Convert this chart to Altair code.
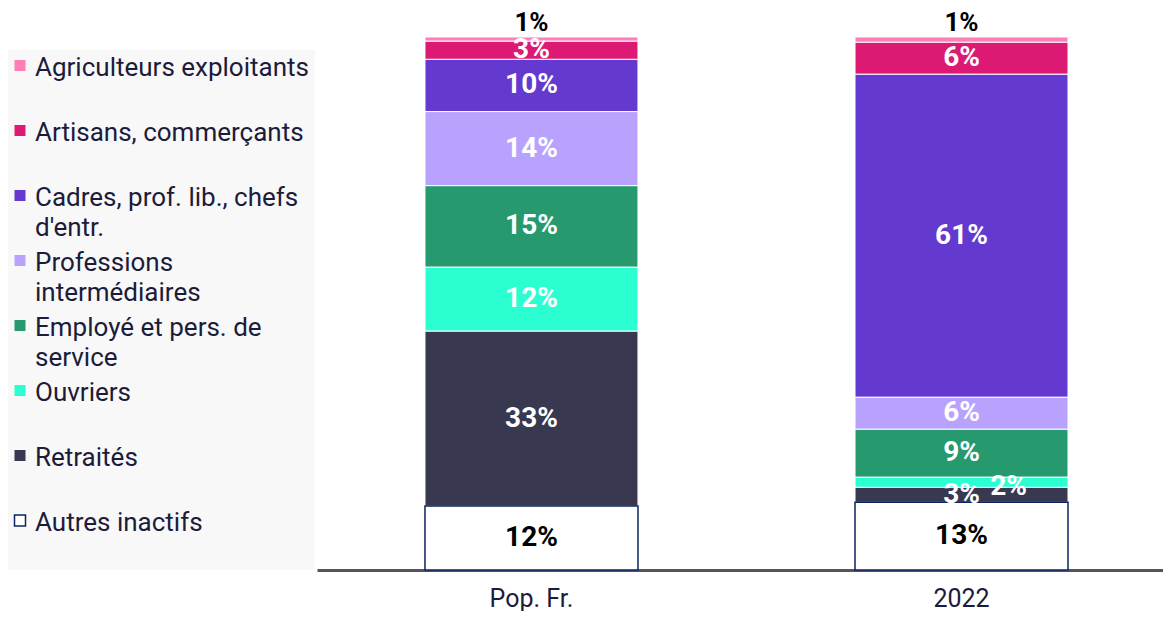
import altair as alt
import pandas as pd

categories = [
    "Agriculteurs exploitants",
    "Artisans, commerçants",
    "Cadres, prof. lib., chefs d'entr.",
    "Professions intermédiaires",
    "Employé et pers. de service",
    "Ouvriers",
    "Retraités",
    "Autres inactifs",
]
legend_labels = [
    "Agriculteurs exploitants",
    "Artisans, commerçants",
    "Cadres, prof. lib., chefs\nd'entr.",
    "Professions\nintermédiaires",
    "Employé et pers. de\nservice",
    "Ouvriers",
    "Retraités",
    "Autres inactifs",
]
colors = ["#ff7eb6", "#dc1a73", "#6439cf", "#b9a2fe", "#27996f", "#2bffd1", "#383851", "#ffffff"]
periods = ["Pop. Fr.", "2022"]
values_pop = [0.8, 3.4, 9.8, 13.9, 15.3, 12.0, 32.8, 12.0]
values_2022 = [1.0, 6.0, 60.6, 6.0, 9.0, 1.9, 2.8, 12.7]
labels_pop = ["1%", "3%", "10%", "14%", "15%", "12%", "33%", "12%"]
labels_2022 = ["1%", "6%", "61%", "6%", "9%", "2%", "3%", "13%"]

FONT = "Roboto"
NAVY = "#0b2463"
TXT = "#1c1c3a"

rows = []
for period, vals, labs in [(periods[0], values_pop, labels_pop), (periods[1], values_2022, labels_2022)]:
    for i, (c, v, l) in enumerate(zip(categories, vals, labs)):
        rows.append({"period": period, "category": c, "value": v, "label": l, "ord": len(categories) - i})
df = pd.DataFrame(rows)

leg_df = pd.DataFrame({"category": categories, "leg": legend_labels})

color_scale = alt.Scale(domain=categories, range=colors)

base = alt.Chart(df).transform_stack(
    stack="value", groupby=["period"], as_=["y0", "y1"],
    sort=[alt.SortField("ord", order="ascending")],
).transform_calculate(mid="(datum.y0 + datum.y1) / 2")

x_scale = alt.Scale(paddingInner=0.5047, paddingOuter=0.236, align=0.532)
x_enc = alt.X(
    "period:N", sort=periods, scale=x_scale,
    axis=alt.Axis(title=None, labelAngle=0, ticks=False, domainColor="#555555",
                  domainWidth=3, labelFontSize=25, labelColor=TXT, labelFont=FONT,
                  labelPadding=16, grid=False),
)
y_scale = alt.Scale(domain=[0, 105.25], nice=False, zero=True)

bars = base.mark_bar(strokeWidth=1).encode(
    x=x_enc,
    y=alt.Y("y0:Q", scale=y_scale, axis=None),
    y2="y1:Q",
    color=alt.Color("category:N", scale=color_scale, legend=None),
    stroke=alt.condition("datum.category == 'Autres inactifs'", alt.value(NAVY), alt.value("#ffffff")),
    strokeWidth=alt.condition("datum.category == 'Autres inactifs'", alt.value(1.5), alt.value(1)),
)

txt_kw = dict(font=FONT, fontWeight="bold", fontSize=28)
x_txt = alt.X("period:N", sort=periods, scale=x_scale)

white_txt = base.transform_filter(
    "datum.category != 'Agriculteurs exploitants' && datum.category != 'Autres inactifs' && !(datum.period == '2022' && datum.category == 'Ouvriers')"
).mark_text(color="#ffffff", baseline="middle", **txt_kw).encode(
    x=x_txt, y=alt.Y("mid:Q", scale=y_scale), text="label:N"
)

shift_txt = base.transform_filter(
    "datum.period == '2022' && datum.category == 'Ouvriers'"
).mark_text(color="#ffffff", baseline="middle", dx=47, dy=5, **txt_kw).encode(
    x=x_txt, y=alt.Y("mid:Q", scale=y_scale), text="label:N"
)

top_txt = base.transform_filter(
    "datum.category == 'Agriculteurs exploitants'"
).mark_text(color="#000000", baseline="bottom", dy=-1, font=FONT, fontWeight="bold", fontSize=26).encode(
    x=x_txt, y=alt.Y("y1:Q", scale=y_scale), text="label:N"
)

bottom_txt = base.transform_filter(
    "datum.category == 'Autres inactifs'"
).mark_text(color="#000000", baseline="middle", **txt_kw).encode(
    x=x_txt, y=alt.Y("mid:Q", scale=y_scale), text="label:N"
)

main = alt.layer(bars, white_txt, shift_txt, top_txt, bottom_txt).properties(width=846, height=561)

leg_y_scale = alt.Scale(domain=categories, paddingInner=0, paddingOuter=0)
swatch = alt.Chart(leg_df).mark_square(size=121, opacity=1, filled=True, yOffset=-17).encode(
    x=alt.value(12),
    y=alt.Y("category:N", sort=categories, scale=leg_y_scale, axis=None),
    color=alt.Color("category:N", scale=color_scale, legend=None),
    stroke=alt.condition("datum.category == 'Autres inactifs'", alt.value(NAVY), alt.value(None)),
    strokeWidth=alt.value(1.5),
)
leg_text = alt.Chart(leg_df).mark_text(
    align="left", baseline="line-top", fontSize=26, lineHeight=30, lineBreak="\n",
    color=TXT, font=FONT, dy=-30,
).encode(
    x=alt.value(27),
    y=alt.Y("category:N", sort=categories, scale=leg_y_scale, axis=None),
    text="leg:N",
)
legend = alt.layer(swatch, leg_text).properties(
    width=307, height=520, view=alt.ViewBackground(fill="#f8f8f8", stroke=None)
)

chart = alt.hconcat(legend, main, spacing=2, center=True).properties(
    padding={"left": 0, "top": 1, "right": 0, "bottom": 0}
).configure_view(stroke=None)

chart.save("out.html", embed_options={"renderer": "svg", "actions": False})
